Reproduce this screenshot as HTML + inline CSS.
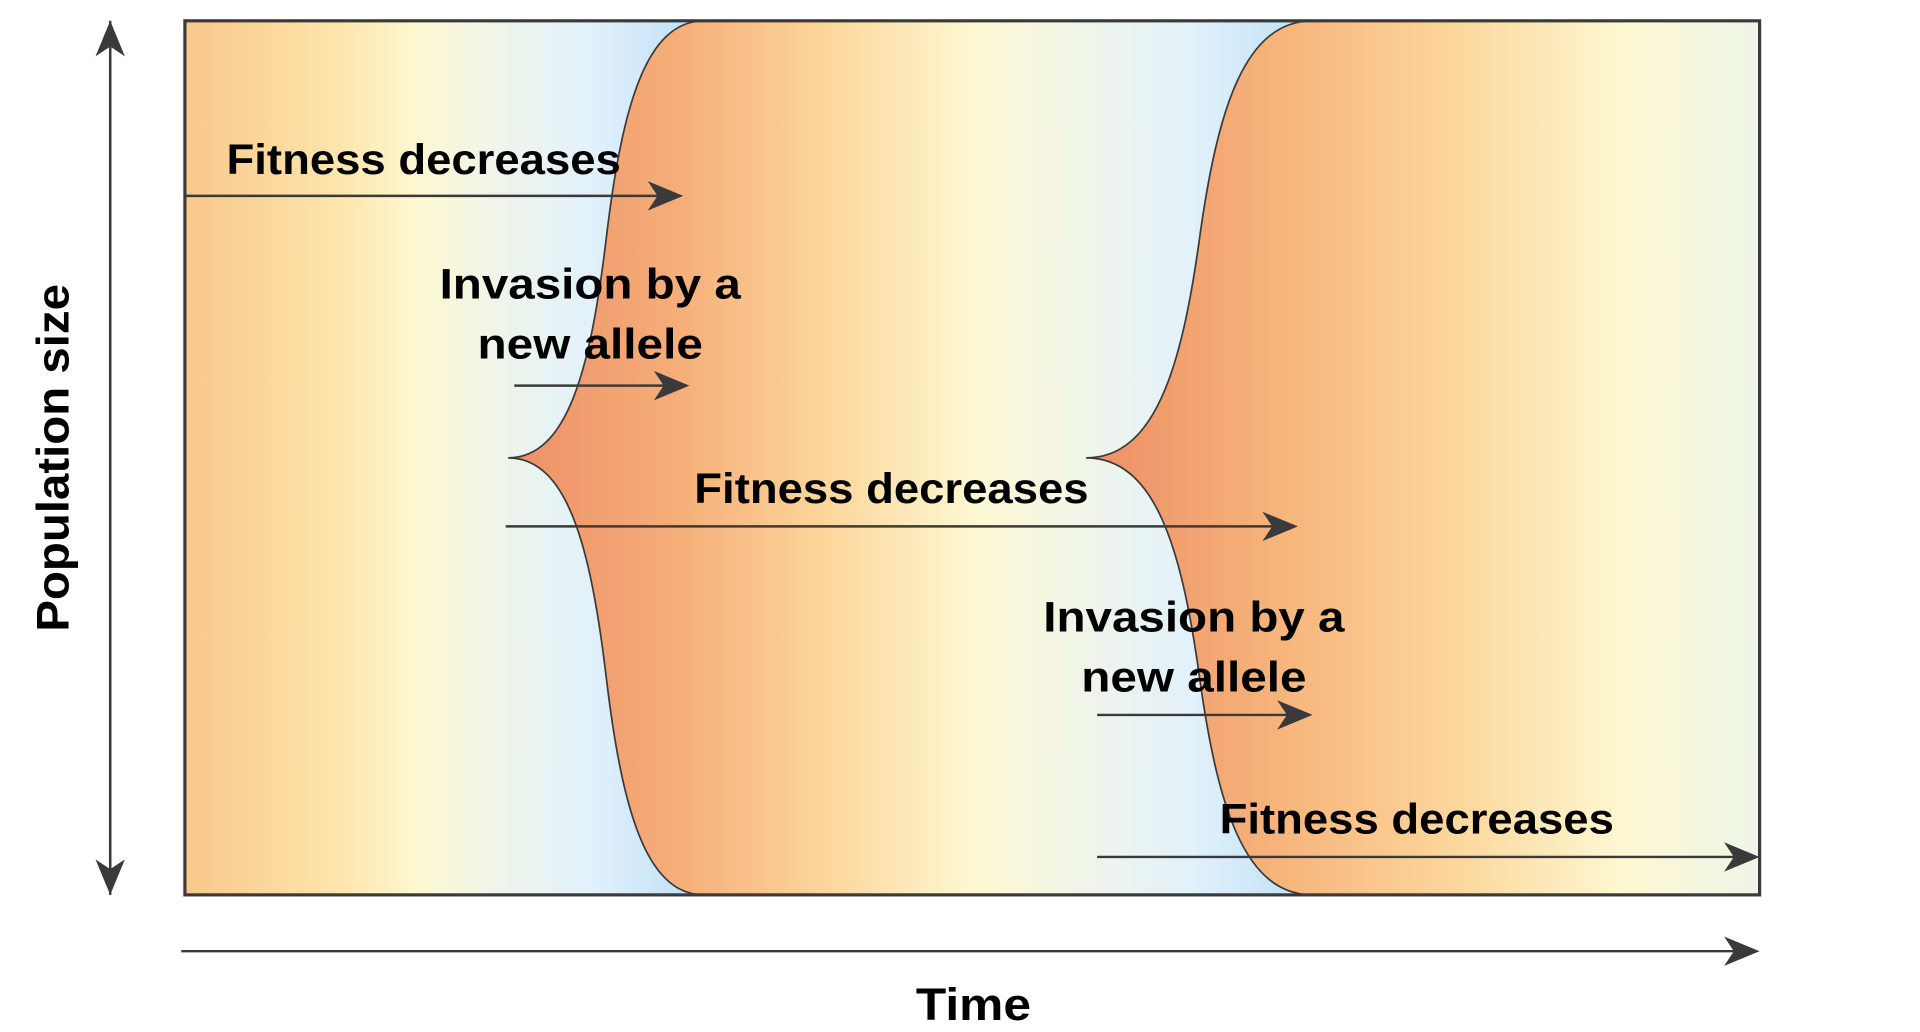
<!DOCTYPE html>
<html><head><meta charset="utf-8"><style>
html,body{margin:0;padding:0;background:#fff;width:1920px;height:1032px;overflow:hidden}
svg{display:block}
text{font-family:"Liberation Sans",sans-serif;font-weight:bold;fill:#000}
</style></head><body>
<svg id="chart" width="1920" height="1032" viewBox="0 0 1568 843" preserveAspectRatio="none" xmlns="http://www.w3.org/2000/svg">
<defs>
<linearGradient id="bg" gradientUnits="userSpaceOnUse" x1="151" y1="0" x2="575" y2="0">
<stop offset="0" stop-color="#f9c78a"/><stop offset="0.3" stop-color="#fde6ac"/><stop offset="0.45" stop-color="#fdf8d2"/><stop offset="0.6" stop-color="#f0f5ea"/><stop offset="0.78" stop-color="#e2f1fb"/><stop offset="1" stop-color="#bddff6"/>
</linearGradient>
<linearGradient id="g2" gradientUnits="userSpaceOnUse" x1="415" y1="0" x2="1072" y2="0">
<stop offset="0.02" stop-color="#ee9268"/><stop offset="0.22" stop-color="#f6b07a"/><stop offset="0.4" stop-color="#fcd79c"/><stop offset="0.58" stop-color="#fdf8d2"/><stop offset="0.72" stop-color="#f0f5ea"/><stop offset="0.85" stop-color="#e2f1fb"/><stop offset="1" stop-color="#bddff6"/>
</linearGradient>
<linearGradient id="g3" gradientUnits="userSpaceOnUse" x1="887" y1="0" x2="1437" y2="0">
<stop offset="0.03" stop-color="#ee9268"/><stop offset="0.3" stop-color="#f7b67c"/><stop offset="0.55" stop-color="#fcd79c"/><stop offset="0.8" stop-color="#fdf8d2"/><stop offset="1" stop-color="#eef5e8"/>
</linearGradient>
</defs>
<g id="plot"></g>
</svg>
<script>
const boxLeft=151, boxRight=1437, boxTop=17, boxBottom=731;
const invasionX=[415,887];
const invasionY=[374,374];
const sweepWidth=[160,185];
const arrowsY=[160,315,430,584,700];
const arrowsStart=[151,420,413,896,896];
const arrowsEnd=[558,563,1060,1072,1437];
const labels=["Fitness decreases","Invasion by a","new allele","Fitness decreases","Invasion by a","new allele","Fitness decreases"];
const labelX=[185,482,482,567,975,975,996];
const labelY=[142,244,293,411,516,565,681];
const labelAnchor=["start","middle","middle","start","middle","middle","start"];
const labelLen=[322,246,184,322,246,184,322];

const NS="http://www.w3.org/2000/svg";
const g=document.getElementById('plot');
function mk(t,a){const e=document.createElementNS(NS,t);for(const k in a)e.setAttribute(k,a[k]);g.appendChild(e);return e;}
let r=mk('rect',{x:boxLeft,y:boxTop,width:boxRight-boxLeft,height:boxBottom-boxTop,fill:'url(#bg)'});


const grads=['url(#g2)','url(#g3)'];
function half(c,cy,w,yEnd){const H=yEnd-cy;
 return `C${c+0.3*w},${cy} ${c+0.42*w},${cy+0.2*H} ${c+0.5*w},${cy+0.5*H} C${c+0.58*w},${cy+0.8*H} ${c+0.7*w},${yEnd} ${c+w},${yEnd}`;}
function halfRev(c,cy,w,yEnd){const H=yEnd-cy;
 return `C${c+0.7*w},${yEnd} ${c+0.58*w},${cy+0.8*H} ${c+0.5*w},${cy+0.5*H} C${c+0.42*w},${cy+0.2*H} ${c+0.3*w},${cy} ${c},${cy}`;}
for(let i=0;i<invasionX.length;i++){
 const c=invasionX[i],cy=invasionY[i],w=sweepWidth[i];
 const fillD=`M${c},${cy} ${half(c,cy,w,boxTop)} L${boxRight},${boxTop} L${boxRight},${boxBottom} L${c+w},${boxBottom} ${halfRev(c,cy,w,boxBottom)}Z`;
 const f=mk('path',{d:fillD,fill:grads[i]});
 
 
 const o=mk('path',{d:`M${c},${cy} ${half(c,cy,w,boxTop)} M${c},${cy} ${half(c,cy,w,boxBottom)}`,fill:'none',stroke:'#3a3a3a','stroke-width':1.4});
 
 
}
let b=mk('rect',{x:boxLeft,y:boxTop,width:boxRight-boxLeft,height:boxBottom-boxTop,fill:'none',stroke:'#3a3a3a','stroke-width':2.6});


function arrow(x1,y1,x2,y2,name){
 const dx=x2-x1,dy=y2-y1,L=Math.hypot(dx,dy),ux=dx/L,uy=dy/L,px=-uy,py=ux,hl=29,hw=12,ins=8;
 const ln=mk('line',{x1:x1,y1:y1,x2:x2-ux*hl*0.7,y2:y2-uy*hl*0.7,stroke:'#3a3a3a','stroke-width':2});
 
 
 const bx=x2-ux*hl,by=y2-uy*hl,ix=x2-ux*(hl-ins),iy=y2-uy*(hl-ins);
 const h=mk('path',{d:`M${x2},${y2} L${bx+px*hw},${by+py*hw} L${ix},${iy} L${bx-px*hw},${by-py*hw}Z`,fill:'#3a3a3a'});
 
 
}
for(let i=0;i<arrowsY.length;i++)arrow(arrowsStart[i],arrowsY[i],arrowsEnd[i],arrowsY[i],'event-arrow-'+(i+1));
arrow(90,731,90,17,'y-axis-arrow-up');
arrow(90,17,90,731,'y-axis-arrow-down');
arrow(148,777,1437,777,'time-axis-arrow');
for(let i=0;i<labels.length;i++){
 const t=mk('text',{x:labelX[i],y:labelY[i],'text-anchor':labelAnchor[i],'font-size':35,textLength:labelLen[i],lengthAdjust:'spacingAndGlyphs'});
 t.textContent=labels[i];
 
 
}
const tt=mk('text',{x:795,y:833,'text-anchor':'middle','font-size':37,textLength:94,lengthAdjust:'spacingAndGlyphs'});
tt.textContent='Time';


const yt=mk('text',{x:0,y:0,'text-anchor':'middle','font-size':37,textLength:284,lengthAdjust:'spacingAndGlyphs',transform:'translate(56,374) rotate(-90)'});
yt.textContent='Population size';


</script>
</body></html>
